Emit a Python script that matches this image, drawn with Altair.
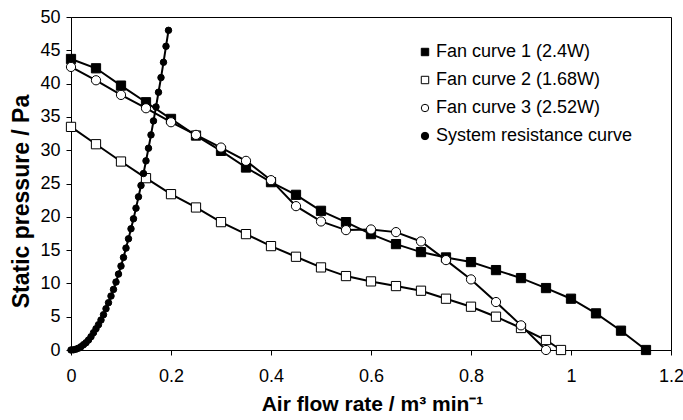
import altair as alt
import pandas as pd

# Fan curve 1 (2.4W)
fan1_x = [0, 0.05, 0.1, 0.15, 0.2, 0.25, 0.3, 0.35, 0.4, 0.45, 0.5, 0.55, 0.6, 0.65,
          0.7, 0.75, 0.8, 0.85, 0.9, 0.95, 1.0, 1.05, 1.1, 1.15]
fan1_y = [43.7, 42.3, 39.7, 37.2, 34.7, 32.2, 29.9, 27.4, 25.2, 23.3, 20.9, 19.2, 17.4, 15.9,
          14.7, 13.9, 13.2, 12.0, 10.8, 9.3, 7.7, 5.5, 2.9, 0.0]

# Fan curve 2 (1.68W)
fan2_x = [0, 0.05, 0.1, 0.15, 0.2, 0.25, 0.3, 0.35, 0.4, 0.45, 0.5, 0.55, 0.6, 0.65,
          0.7, 0.75, 0.8, 0.85, 0.9, 0.95, 0.98]
fan2_y = [33.5, 30.9, 28.3, 25.8, 23.4, 21.4, 19.2, 17.4, 15.6, 14.0, 12.4, 11.1, 10.3, 9.6,
          8.9, 7.7, 6.5, 5.0, 3.3, 1.5, 0.0]

# Fan curve 3 (2.52W)
fan3_x = [0, 0.05, 0.1, 0.15, 0.2, 0.25, 0.3, 0.35, 0.4, 0.45, 0.5, 0.55, 0.6, 0.65,
          0.7, 0.75, 0.8, 0.85, 0.9, 0.95]
fan3_y = [42.5, 40.5, 38.3, 36.3, 34.2, 32.3, 30.4, 28.4, 25.5, 21.6, 19.3, 18.0, 18.1, 17.7,
          16.3, 13.5, 10.6, 7.2, 3.7, 0.0]

# System resistance curve
sys_x = [0, 0.005, 0.01, 0.015, 0.02, 0.025, 0.03, 0.035, 0.04, 0.045, 0.05, 0.055, 0.06,
         0.065, 0.07, 0.075, 0.08, 0.085, 0.09, 0.095, 0.1, 0.105, 0.11, 0.115, 0.12, 0.125,
         0.13, 0.135, 0.14, 0.145, 0.15, 0.155, 0.16, 0.165, 0.17, 0.175, 0.18, 0.185, 0.19,
         0.195]
sys_y = [0.0, 0.03, 0.13, 0.28, 0.5, 0.8, 1.1, 1.5, 2.0, 2.6, 3.2, 3.8, 4.5, 5.3, 6.2, 7.1,
         8.1, 9.1, 10.2, 11.4, 12.6, 13.9, 15.3, 16.7, 18.2, 19.7, 21.3, 23.0, 24.7, 26.5,
         28.4, 30.3, 32.3, 34.4, 36.5, 38.7, 40.9, 43.2, 45.6, 48.0]

series_names = ["Fan curve 1 (2.4W)", "Fan curve 2 (1.68W)", "Fan curve 3 (2.52W)",
                "System resistance curve"]
x_ticks = [0, 0.2, 0.4, 0.6, 0.8, 1.0, 1.2]
y_ticks = [0, 5, 10, 15, 20, 25, 30, 35, 40, 45, 50]

rows = []
for name, xs, ys in zip(series_names, [fan1_x, fan2_x, fan3_x, sys_x],
                        [fan1_y, fan2_y, fan3_y, sys_y]):
    for i, (a, b) in enumerate(zip(xs, ys)):
        rows.append({"series": name, "x": a, "y": b, "order": i})
df = pd.DataFrame(rows)

FONT = "Liberation Sans"

xenc = alt.X("x:Q", scale=alt.Scale(domain=[0, 1.2], nice=False),
             axis=alt.Axis(title="Air flow rate / m³ min⁻¹", values=x_ticks, format="~g",
                           grid=False, tickSize=5, labelPadding=12, labelFontSize=18,
                           labelOverlap=False, labelFlush=False,
                           titleFontSize=21, titleFontWeight="bold", titleX=301, titleY=60,
                           titleBaseline="alphabetic", titleAlign="center",
                           domainColor="black", tickColor="black", labelColor="black",
                           titleColor="black", labelFont=FONT, titleFont=FONT))
yenc = alt.Y("y:Q", scale=alt.Scale(domain=[0, 50], nice=False),
             axis=alt.Axis(title="Static pressure / Pa", values=y_ticks, grid=False,
                           tickSize=5, labelPadding=6, labelFontSize=18,
                           labelOverlap=False, labelFlush=False,
                           titleFontSize=23, titleFontWeight="bold", titleX=-50, titleY=184,
                           titleAngle=270, titleBaseline="middle", titleAlign="center",
                           domainColor="black", tickColor="black", labelColor="black",
                           titleColor="black", labelFont=FONT, titleFont=FONT))

base = alt.Chart(df)

lines = base.mark_line(color="black", strokeWidth=2).encode(
    x=xenc, y=yenc, detail="series:N", order="order:Q")

legend = alt.Legend(title=None, orient="none", legendX=345, legendY=26,
                    labelFontSize=18, labelFont=FONT, labelColor="black", labelLimit=0,
                    symbolSize=55, symbolStrokeWidth=1, rowPadding=10, labelOffset=2)

shape_scale = alt.Scale(domain=series_names, range=["square", "square", "circle", "circle"])
fill_scale = alt.Scale(domain=series_names, range=["black", "white", "white", "black"])
stroke_scale = alt.Scale(domain=series_names, range=["black", "black", "black", "black"])

def points(data_filter, size):
    return base.transform_filter(data_filter).mark_point(
        filled=True, size=size, strokeWidth=1, opacity=1).encode(
        x=xenc, y=yenc,
        shape=alt.Shape("series:N", scale=shape_scale, legend=legend),
        fill=alt.Fill("series:N", scale=fill_scale, legend=legend),
        stroke=alt.Stroke("series:N", scale=stroke_scale, legend=legend))

fans = points(alt.datum.series != "System resistance curve", 85)
system = points(alt.datum.series == "System resistance curve", 42)

chart = alt.layer(lines, fans, system).properties(
    width=600, height=333,
    autosize=alt.AutoSizeParams(type="none"),
    padding={"left": 71, "top": 17, "right": 12, "bottom": 70},
    background="white",
).configure_view(stroke="black", strokeWidth=1)

chart.save("out.html", embed_options={"renderer": "svg", "actions": False})
